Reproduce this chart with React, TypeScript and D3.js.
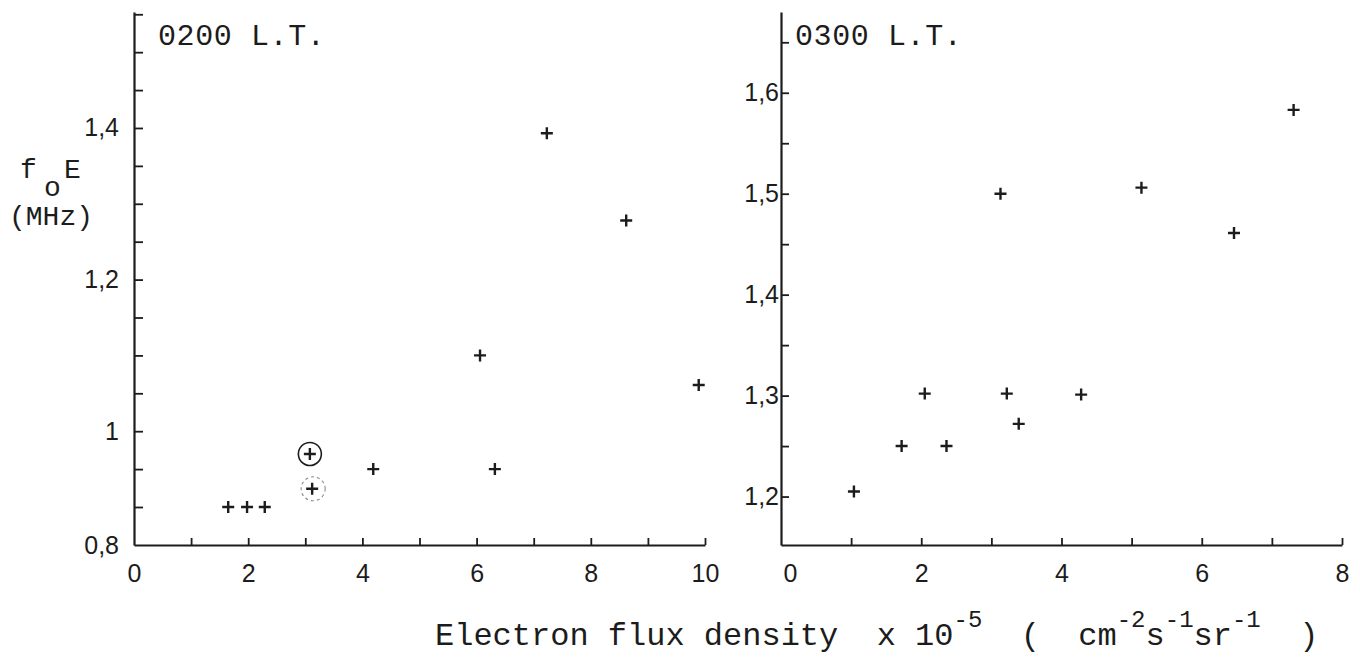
import React, { useEffect, useRef } from "react";
import * as d3 from "d3";

const W = 1360;
const H = 657;

// 0200 L.T. : electron flux density (x 10^-5) and foE (MHz)
const fluxA = [1.65, 1.98, 2.29, 3.08, 3.12, 4.19, 6.06, 6.32, 7.23, 8.62, 9.89];
const foEA = [0.9, 0.9, 0.9, 0.97, 0.924, 0.95, 1.1, 0.95, 1.393, 1.278, 1.061];
const ringSolidA = [3];
const ringDashedA = [4];

// 0300 L.T.
const fluxB = [1.04, 1.72, 2.05, 2.36, 3.13, 3.22, 3.39, 4.28, 5.14, 6.46, 7.31];
const foEB = [1.205, 1.25, 1.302, 1.25, 1.5, 1.302, 1.272, 1.301, 1.506, 1.461, 1.583];

// axis ticks and labels
const xTicksA = [1, 2, 3, 4, 5, 6, 7, 8, 9, 10];
const xLabelsA = [0, 2, 4, 6, 8, 10];
const yTicksA = [0.8, 0.9, 0.95, 1, 1.05, 1.1, 1.15, 1.2, 1.25, 1.3, 1.35, 1.4, 1.45, 1.5, 1.55];
const yLabelsA = [0.8, 1, 1.2, 1.4];

const xTicksB = [1, 2, 3, 4, 5, 6, 7, 8];
const xLabelsB = [0, 2, 4, 6, 8];
const yTicksB = [1.2, 1.25, 1.3, 1.35, 1.4, 1.45, 1.5, 1.55, 1.6, 1.65];
const yLabelsB = [1.2, 1.3, 1.4, 1.5, 1.6];

const INK = "#1c1c1c";
const MONO = "'Liberation Mono', 'DejaVu Sans Mono', monospace";
const NUM = "'Liberation Sans', Arial, sans-serif";

const fmt = (d: number) => String(d).replace(".", ",");

// scales (the 0200 panel has a broken axis between 0,8 and 0,9)
const xA = d3.scaleLinear().domain([0, 10]).range([134, 705]);
const yA = d3.scaleLinear().domain([0.8, 0.9, 1.553]).range([545, 507, 12]);
const xB = d3.scaleLinear().domain([0, 8]).range([781, 1342]);
const yB = d3.scaleLinear().domain([1.152, 1.68]).range([545, 12]);

function styleAxis(g: d3.Selection<SVGGElement, unknown, null, undefined>) {
  g.attr("font-family", NUM).attr("font-size", 25);
  g.select(".domain").attr("stroke", INK).attr("stroke-width", 2.2);
  g.selectAll(".tick line").attr("stroke", INK).attr("stroke-width", 1.8);
  g.selectAll(".tick text").attr("fill", INK);
}

function Plus({ cx, cy }: { cx: number; cy: number }) {
  const a = 6;
  return (
    <path
      d={`M${cx - a},${cy}H${cx + a}M${cx},${cy - a}V${cy + a}`}
      stroke={INK}
      strokeWidth={2.4}
      fill="none"
    />
  );
}

export default function App() {
  const axRef = useRef<SVGGElement>(null);

  useEffect(() => {
    const root = d3.select(axRef.current);
    root.selectAll("*").remove();

    // 0200 panel axes
    const gxA = root.append("g").attr("transform", `translate(0,${yA(0.8)})`);
    gxA.call(
      d3
        .axisBottom(xA)
        .tickValues([0, ...xTicksA])
        .tickSizeInner(-7)
        .tickSizeOuter(0)
        .tickPadding(19)
        .tickFormat((d) => (xLabelsA.includes(+d) ? fmt(+d) : ""))
    );
    styleAxis(gxA);
    gxA.selectAll(".tick line").filter((d) => +d === 0).remove();

    const gyA = root.append("g").attr("transform", `translate(${xA(0)},0)`);
    gyA.call(
      d3
        .axisLeft(yA)
        .tickValues(yTicksA)
        .tickSizeInner(-9)
        .tickSizeOuter(0)
        .tickPadding(15)
        .tickFormat((d) => (yLabelsA.includes(+d) ? fmt(+d) : ""))
    );
    styleAxis(gyA);
    gyA.selectAll(".tick line").filter((d) => +d === 0.8).remove();

    // 0300 panel axes
    const gxB = root.append("g").attr("transform", `translate(0,${yB(1.152)})`);
    gxB.call(
      d3
        .axisBottom(xB)
        .tickValues([0, ...xTicksB])
        .tickSizeInner(-7)
        .tickSizeOuter(0)
        .tickPadding(19)
        .tickFormat((d) => (xLabelsB.includes(+d) ? fmt(+d) : ""))
    );
    styleAxis(gxB);
    gxB.selectAll(".tick line").filter((d) => +d === 0).remove();
    gxB.selectAll(".tick text").filter((d) => +d === 0).attr("dx", 9);

    const gyB = root.append("g").attr("transform", `translate(${xB(0)},0)`);
    gyB.call(
      d3
        .axisLeft(yB)
        .tickValues(yTicksB)
        .tickSizeInner(-8)
        .tickSizeOuter(0)
        .tickPadding(2)
        .tickFormat((d) => (yLabelsB.includes(+d) ? fmt(+d) : ""))
    );
    styleAxis(gyB);
  }, []);

  return (
    <svg
      width={W}
      height={H}
      viewBox={`0 0 ${W} ${H}`}
      style={{ position: "absolute", left: 0, top: 0, background: "#fff" }}
    >
      <rect x={0} y={0} width={W} height={H} fill="#fff" />
      <g ref={axRef} />

      {/* panel titles */}
      <text x={158} y={45} fontFamily={MONO} fontSize={30} fill={INK} letterSpacing={0.6}>
        0200 L.T.
      </text>
      <text x={795} y={45} fontFamily={MONO} fontSize={30} fill={INK} letterSpacing={0.6}>
        0300 L.T.
      </text>

      {/* y axis title */}
      <g fontFamily={MONO} fontSize={28} fill={INK}>
        <text x={20} y={178}>f</text>
        <text x={44} y={196}>o</text>
        <text x={64} y={178}>E</text>
        <text x={9} y={225}>(MHz)</text>
      </g>

      {/* x axis title */}
      <text x={435} y={645} fontFamily={MONO} fontSize={32} fill={INK} style={{ whiteSpace: "pre" }}>
        <tspan>Electron flux density  x 10</tspan>
        <tspan fontSize={24} dy={-18}>-5</tspan>
        <tspan dy={18}>{"  (  cm"}</tspan>
        <tspan fontSize={24} dy={-18}>-2</tspan>
        <tspan dy={18}>s</tspan>
        <tspan fontSize={24} dy={-18}>-1</tspan>
        <tspan dy={18}>sr</tspan>
        <tspan fontSize={24} dy={-18}>-1</tspan>
        <tspan dy={18}>{"  )"}</tspan>
      </text>

      {/* 0200 points */}
      {fluxA.map((f, i) => (
        <Plus key={`a${i}`} cx={xA(f)} cy={yA(foEA[i])} />
      ))}
      {ringSolidA.map((i) => (
        <circle key={`rs${i}`} cx={xA(fluxA[i])} cy={yA(foEA[i])} r={11.5} fill="none" stroke={INK} strokeWidth={1.6} />
      ))}
      {ringDashedA.map((i) => (
        <circle
          key={`rd${i}`}
          cx={xA(fluxA[i]) + 1}
          cy={yA(foEA[i])}
          r={12}
          fill="none"
          stroke="#8a8a8a"
          strokeWidth={1.1}
          strokeDasharray="3 3"
        />
      ))}

      {/* 0300 points */}
      {fluxB.map((f, i) => (
        <Plus key={`b${i}`} cx={xB(f)} cy={yB(foEB[i])} />
      ))}
    </svg>
  );
}
